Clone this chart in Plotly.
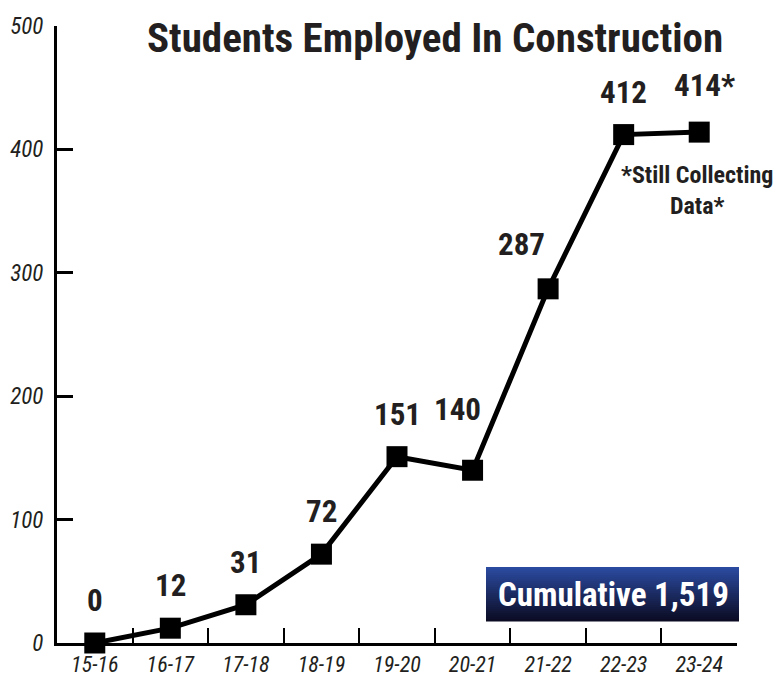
import plotly.graph_objects as go

years = ["15-16", "16-17", "17-18", "18-19", "19-20", "20-21", "21-22", "22-23", "23-24"]
employed = [0, 12, 31, 72, 151, 140, 287, 412, 414]
point_labels = ["0", "12", "31", "72", "151", "140", "287", "412", "414*"]
y_ticks = [0, 100, 200, 300, 400, 500]
title_text = "Students Employed In Construction"
note_text = "*Still Collecting<br>Data*"
cumulative_text = "Cumulative 1,519"

FONT = "Roboto Condensed, Roboto, Liberation Sans, sans-serif"
INK = "#231f20"

# label offsets (pixels) per point
label_dx = [0, 0, 0, 0, 0, -15, -27, 0, 5]
label_dy = [22, 22, 22, 22, 22, 40, 24, 22, 26]

W, H = 782, 677
OFF = 8  # page body margin offset
# target plot area in page pixels: x 57..737, y 26..643
PL, PR, PT, PB = 57, 737, 26, 643
L = PL - OFF
T = PT - OFF
R = W - (PR - OFF)
B = H - (PB - OFF)
pw, ph = PR - PL, PB - PT

def px_x(p):
    return (p - PL) / pw

def px_y(p):
    return (PB - p) / ph

fig = go.Figure()
fig.add_trace(go.Scatter(
    x=years, y=employed,
    mode="lines+markers",
    line=dict(color="black", width=5),
    marker=dict(symbol="square", size=21, color="black"),
    cliponaxis=False, hoverinfo="skip", showlegend=False,
))

annotations = []
for i, (cat, v, lab) in enumerate(zip(years, employed, point_labels)):
    annotations.append(dict(
        x=cat, y=v, xref="x", yref="y", text=lab, showarrow=False,
        xanchor="center", yanchor="bottom", xshift=label_dx[i], yshift=label_dy[i],
        font=dict(family=FONT, size=31, color=INK, weight="bold"),
    ))

annotations.append(dict(
    x=px_x(435), y=px_y(38), xref="paper", yref="paper", text=title_text,
    showarrow=False, xanchor="center", yanchor="middle",
    font=dict(family=FONT, size=41, color=INK, weight="bold"),
))
annotations.append(dict(
    x=px_x(697), y=px_y(190), xref="paper", yref="paper", text=note_text,
    showarrow=False, xanchor="center", yanchor="middle", align="center",
    font=dict(family=FONT, size=24, color=INK, weight="bold"),
))
annotations.append(dict(
    x=px_x(613), y=px_y(594), xref="paper", yref="paper", text=cumulative_text,
    showarrow=False, xanchor="center", yanchor="middle",
    font=dict(family=FONT, size=33, color="white", weight="bold"),
))

# gradient box as stacked stripes
shapes = []
x0, x1 = 486, 739
top, bot = 567, 621
n = 27
c_top = (42, 74, 160)
c_bot = (12, 12, 36)
for k in range(n):
    t = k / (n - 1)
    c = tuple(int(round(c_top[j] + (c_bot[j] - c_top[j]) * t)) for j in range(3))
    ya = top + (bot - top) * k / n
    yb = top + (bot - top) * (k + 1) / n
    shapes.append(dict(
        type="rect", xref="paper", yref="paper",
        x0=px_x(x0), x1=px_x(x1), y0=px_y(yb + 0.5), y1=px_y(ya),
        fillcolor="rgb(%d,%d,%d)" % c, line=dict(width=0), layer="above",
    ))

fig.update_layout(
    width=W, height=H,
    margin=dict(l=L, r=R, t=T, b=B),
    paper_bgcolor="white", plot_bgcolor="white",
    showlegend=False,
    annotations=annotations,
    shapes=shapes,
    xaxis=dict(
        type="category",
        range=[-0.5, len(years) - 0.5],
        showgrid=False, zeroline=False,
        showline=True, linecolor="black", linewidth=3,
        ticks="inside", ticklen=15, tickwidth=2, tickcolor="black",
        tickson="boundaries",
        tickfont=dict(family=FONT, size=22, color=INK, style="italic"),
        ticklabelstandoff=0,
        automargin=False,
        fixedrange=True,
    ),
    yaxis=dict(
        range=[0, 500],
        tickmode="array", tickvals=y_ticks, ticktext=[str(v) for v in y_ticks],
        showgrid=False, zeroline=False,
        showline=True, linecolor="black", linewidth=3,
        ticks="inside", ticklen=16, tickwidth=3, tickcolor="black",
        tickfont=dict(family=FONT, size=23, color=INK, style="italic", weight="normal"),
        ticklabelstandoff=6,
        automargin=False,
        fixedrange=True,
    ),
)

fig.write_html("out.html")
